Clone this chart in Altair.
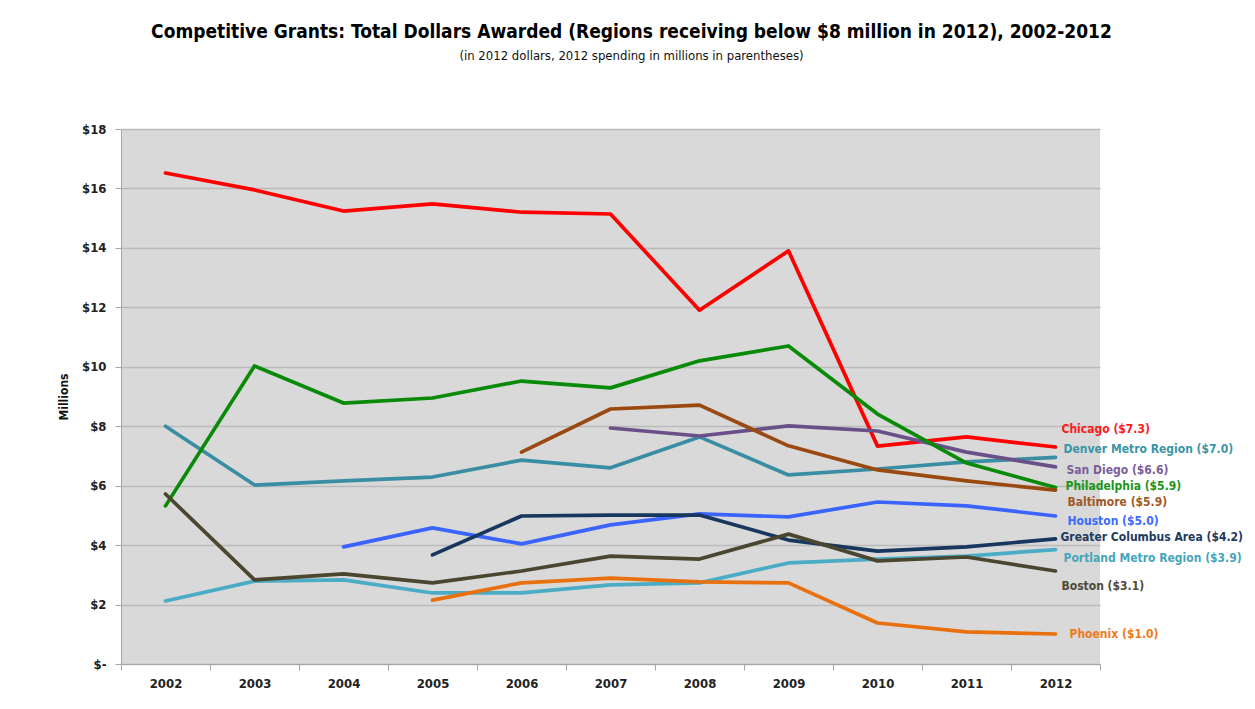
import altair as alt
import pandas as pd

years = [2002, 2003, 2004, 2005, 2006, 2007, 2008, 2009, 2010, 2011, 2012]

chicago = [16.52, 15.95, 15.24, 15.48, 15.20, 15.14, 11.90, 13.90, 7.33, 7.64, 7.30]
denver = [8.00, 6.02, 6.16, 6.29, 6.86, 6.60, 7.64, 6.36, 6.56, 6.80, 6.95]
san_diego = [None, None, None, None, None, 7.94, 7.67, 8.01, 7.84, 7.13, 6.63]
philadelphia = [5.32, 10.03, 8.78, 8.95, 9.52, 9.29, 10.20, 10.70, 8.41, 6.76, 5.94]
baltimore = [None, None, None, None, 7.13, 8.58, 8.71, 7.34, 6.53, 6.16, 5.85]
houston = [None, None, 3.94, 4.58, 4.04, 4.68, 5.05, 4.95, 5.45, 5.32, 4.98]
columbus = [None, None, None, 3.67, 4.98, 5.01, 5.01, 4.17, 3.80, 3.94, 4.21]
portland = [2.12, 2.79, 2.83, 2.39, 2.39, 2.66, 2.73, 3.40, 3.53, 3.63, 3.85]
boston = [5.72, 2.83, 3.03, 2.73, 3.13, 3.63, 3.53, 4.37, 3.47, 3.60, 3.13]
phoenix = [None, None, None, 2.15, 2.73, 2.89, 2.76, 2.73, 1.38, 1.08, 1.01]

series_names = ["Chicago", "Denver Metro Region", "San Diego", "Philadelphia", "Baltimore",
                "Houston", "Greater Columbus Area", "Portland Metro Region", "Boston", "Phoenix"]
series_values = [chicago, denver, san_diego, philadelphia, baltimore,
                 houston, columbus, portland, boston, phoenix]
labels_2012 = ["Chicago ($7.3)", "Denver Metro Region ($7.0)", "San Diego ($6.6)",
               "Philadelphia  ($5.9)", "Baltimore ($5.9)", "Houston ($5.0)",
               "Greater Columbus  Area ($4.2)", "Portland  Metro Region ($3.9)",
               "Boston ($3.1)", "Phoenix  ($1.0)"]
line_colors = ["#FF0000", "#3A8EA3", "#6A5088", "#098A09", "#9A4A10",
               "#3B64FF", "#17375E", "#4BACC6", "#4A4630", "#E8700E"]
label_colors = ["#FF1A1A", "#3A95A8", "#7A5E9A", "#1A961A", "#A0582A",
                "#3B6BFF", "#1F3A60", "#45A5BC", "#4F4A35", "#EF7A1A"]
label_dx = [6, 8, 11, 10, 12, 12, 5, 8, 6, 14]
label_dy = [-18, -8, 3, -1, 12, 5, -2, 8, 15, 0]

rows = []
for name, vals in zip(series_names, series_values):
    for y, v in zip(years, vals):
        if v is not None:
            rows.append({"Region": name, "Year": str(y), "Value": v})
df = pd.DataFrame(rows)

FONT = "Liberation Sans Narrow, DejaVu Sans Condensed, sans-serif"

x_enc = alt.X("Year:O", title=None,
              scale=alt.Scale(domain=[str(y) for y in years], paddingInner=0, paddingOuter=0),
              axis=alt.Axis(labelAngle=0, tickBand="extent", tickSize=6, tickColor="#A6A6A6",
                            domainColor="#A6A6A6", labelFont=FONT, labelFontSize=13,
                            labelFontWeight="bold", labelColor="#222222", labelPadding=7,
                            grid=False))
y_enc = alt.Y("Value:Q", title="Millions",
              scale=alt.Scale(domain=[0, 18], nice=False),
              axis=alt.Axis(values=list(range(0, 19, 2)),
                            labelExpr="datum.value == 0 ? '$-' : '$' + datum.value",
                            tickSize=6, tickColor="#A6A6A6", domainColor="#A6A6A6",
                            gridColor="#BBBBBB", gridWidth=1.5,
                            labelFont=FONT, labelFontSize=13, labelFontWeight="bold",
                            labelColor="#222222", labelPadding=9,
                            titleFont=FONT, titleFontSize=12, titleFontWeight="bold",
                            titleColor="#111111", titlePadding=11))

lines = alt.Chart(df).mark_line(strokeWidth=3.7, strokeCap="round", strokeJoin="round").encode(
    x=x_enc,
    y=y_enc,
    color=alt.Color("Region:N", scale=alt.Scale(domain=series_names, range=line_colors), legend=None),
    detail="Region:N",
)

layers = [lines]
for name, lab, col, dx, dy in zip(series_names, labels_2012, label_colors, label_dx, label_dy):
    sub = df[(df.Region == name) & (df.Year == "2012")].assign(Label=lab)
    layers.append(
        alt.Chart(sub).mark_text(align="left", baseline="middle", dx=dx, dy=dy,
                                 font=FONT, fontSize=12, fontWeight="bold", color=col)
        .encode(x="Year:O", y="Value:Q", text="Label:N")
    )

chart = alt.layer(*layers).properties(
    width=979, height=535,
    background="white",
    autosize=alt.AutoSizeParams(type="none"),
    padding={"left": 113, "top": 121, "right": 147, "bottom": 37},
    title=alt.TitleParams(
        "Competitive Grants: Total Dollars Awarded (Regions receiving below $8 million in 2012), 2002-2012",
        subtitle="(in 2012 dollars, 2012 spending in millions in parentheses)",
        font=FONT, fontSize=19, fontWeight="bold", color="#000000",
        subtitleFont=FONT, subtitleFontSize=13, subtitleColor="#111111",
        subtitlePadding=8, anchor="middle", dx=21, offset=60),
).configure_view(fill="#D9D9D9", strokeWidth=0)

chart.save("out.html", embed_options={"renderer": "svg", "actions": False})
